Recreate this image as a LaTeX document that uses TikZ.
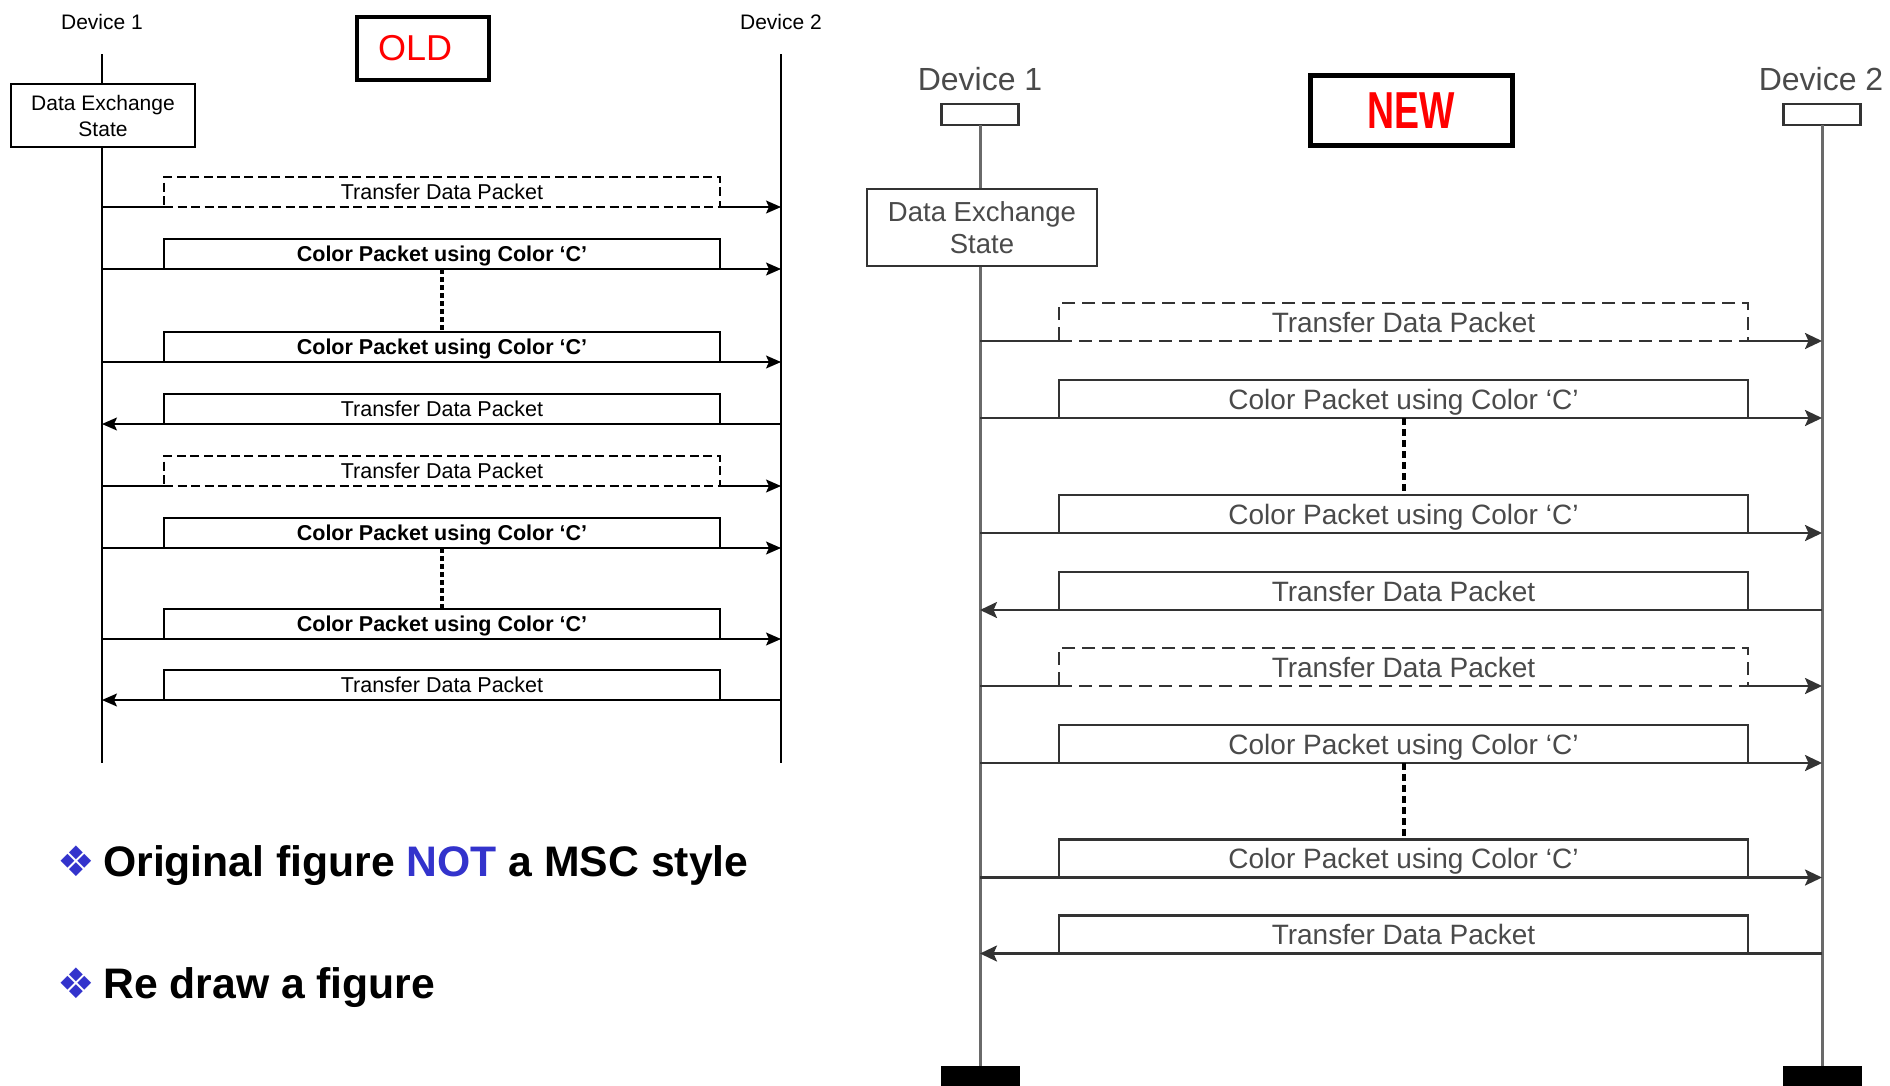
\documentclass[tikz,border=0pt]{standalone}
\usepackage{fontspec}
\setmainfont{Liberation Sans}
\newfontfamily\symfont{DejaVu Sans}
\usetikzlibrary{arrows.meta}
\definecolor{notblue}{HTML}{3333CC}
\definecolor{ngray}{HTML}{6A6A6A}
\definecolor{ntext}{HTML}{4A4A4A}
\definecolor{nline}{HTML}{333333}
\begin{document}
\begin{tikzpicture}[x=1pt,y=-1pt,
  olabel/.style={font=\fontsize{21}{25}\selectfont, anchor=base},
  obox/.style={draw, line width=1.5pt, minimum width=556pt, minimum height=30pt, inner sep=0pt, outer sep=0pt,
    font=\fontsize{21.5}{26}\selectfont, text height=15.5pt, text depth=0pt},
  oboxb/.style={obox, font=\bfseries\fontsize{21.5}{26}\selectfont},
  odash/.style={obox, line width=2.5pt, dash pattern=on 9pt off 4.5pt},
  oline/.style={line width=1.5pt},
  oarrow/.style={line width=1.5pt, -{Stealth[length=15pt,width=13pt,inset=3pt]}},
  odots/.style={line width=4pt, dash pattern=on 5pt off 3pt},
  nlabel/.style={font=\fontsize{32}{38}\selectfont, text=ntext, anchor=base},
  nbox/.style={draw=nline, line width=2.5pt, minimum width=689pt, minimum height=38pt, inner sep=0pt, outer sep=0pt,
    text=ntext, font=\fontsize{28}{34}\selectfont, text height=20pt, text depth=0pt},
  ndash/.style={nbox, dash pattern=on 13pt off 7pt},
  nline/.style={draw=nline, line width=2.5pt},
  narrow/.style={draw=nline, line width=2.5pt, -{Stealth[length=17pt,width=16pt,inset=3.5pt]}},
  nlife/.style={draw=ngray, line width=3pt},
  ndots/.style={line width=4pt, dash pattern=on 7pt off 4pt},
  nhead/.style={draw=nline, line width=2.5pt, minimum width=77pt, minimum height=21pt, inner sep=0pt, outer sep=0pt},
  nend/.style={fill=black, minimum width=79pt, minimum height=30pt, inner sep=0pt, outer sep=0pt, anchor=north},
  bullet/.style={anchor=base west, font=\bfseries\fontsize{42.7}{50}\selectfont}
]
\useasboundingbox (0,0) rectangle (1890,1085);

% ================= OLD =================
\node[olabel] (od1) at (102,29) {Device 1};
\node[olabel] (od2) at (781,29) {Device 2};
\coordinate (o1top) at (102,54);
\coordinate (o1bot) at (102,763);
\coordinate (o2top) at (781,54);
\coordinate (o2bot) at (781,763);
\draw[oline] (o1top) -- (o1bot);
\draw[oline] (o2top) -- (o2bot);
\node[draw, line width=1.5pt, fill=white, minimum width=184pt, minimum height=63pt, inner sep=0pt, align=center,
  font=\fontsize{21}{26}\selectfont] (odes) at (103,115.5) {Data Exchange\\State};
\node[draw, line width=4pt, minimum height=63pt, text width=90pt, inner xsep=21pt, inner ysep=0pt, align=left,
  text=red, font=\fontsize{36}{40}\selectfont] (oldbox) at (423,48) {OLD};

\node[odash] (ob1) at (442,192) {Transfer Data Packet};
\node[oboxb] (ob2) at (442,254) {Color Packet using Color ‘C’};
\node[oboxb] (ob3) at (442,347) {Color Packet using Color ‘C’};
\node[obox]  (ob4) at (442,409) {Transfer Data Packet};
\node[odash] (ob5) at (442,471) {Transfer Data Packet};
\node[oboxb] (ob6) at (442,533) {Color Packet using Color ‘C’};
\node[oboxb] (ob7) at (442,624) {Color Packet using Color ‘C’};
\node[obox]  (ob8) at (442,685) {Transfer Data Packet};

\draw[oline] (ob1.south -| o1top) -- (ob1.south west);
\draw[oarrow] (ob1.south east) -- (ob1.south -| o2top);
\draw[oarrow] (ob2.south -| o1top) -- (ob2.south -| o2top);
\draw[oarrow] (ob3.south -| o1top) -- (ob3.south -| o2top);
\draw[oarrow] (ob4.south -| o2top) -- (ob4.south -| o1top);
\draw[oline] (ob5.south -| o1top) -- (ob5.south west);
\draw[oarrow] (ob5.south east) -- (ob5.south -| o2top);
\draw[oarrow] (ob6.south -| o1top) -- (ob6.south -| o2top);
\draw[oarrow] (ob7.south -| o1top) -- (ob7.south -| o2top);
\draw[oarrow] (ob8.south -| o2top) -- (ob8.south -| o1top);
\draw[odots] (ob2.south) -- (ob3.north);
\draw[odots] (ob6.south) -- (ob7.north);

% ================= NEW =================
\node[nlabel] (nd1) at (980,90) {Device 1};
\node[nlabel] (nd2) at (1821,90) {Device 2};
\node[nhead] (nh1) at (980,114.5) {};
\node[nhead] (nh2) at (1822,114.5) {};
\node[nend] (ne1) at (980,1066) {};
\node[nend] (ne2) at (1822,1066) {};
\draw[nlife] (nh1.south) -- (ne1.north);
\draw[nlife] (nh2.south) -- (ne2.north);
\node[draw=nline, line width=2.5pt, fill=white, minimum width=230pt, minimum height=77pt, inner sep=0pt, align=center,
  text=ntext, font=\fontsize{27.5}{32}\selectfont] (ndes) at (982,227.5) {Data Exchange\\State};
\node[draw, line width=5pt, minimum width=202pt, minimum height=70pt, inner sep=0pt, text=red,
  font=\bfseries\fontsize{52}{60}\selectfont] (newbox) at (1411.5,110.5) {\scalebox{0.72}[1]{NEW}};

\node[ndash] (nb1) at (1403.5,322) {Transfer Data Packet};
\node[nbox]  (nb2) at (1403.5,399) {Color Packet using Color ‘C’};
\node[nbox]  (nb3) at (1403.5,514) {Color Packet using Color ‘C’};
\node[nbox]  (nb4) at (1403.5,591) {Transfer Data Packet};
\node[ndash] (nb5) at (1403.5,667) {Transfer Data Packet};
\node[nbox]  (nb6) at (1403.5,744) {Color Packet using Color ‘C’};
\node[nbox]  (nb7) at (1403.5,858.5) {Color Packet using Color ‘C’};
\node[nbox]  (nb8) at (1403.5,934.5) {Transfer Data Packet};

\draw[nline] (nb1.south -| nh1.south) -- (nb1.south west);
\draw[narrow] (nb1.south east) -- (nb1.south -| nh2.south);
\draw[narrow] (nb2.south -| nh1.south) -- (nb2.south -| nh2.south);
\draw[narrow] (nb3.south -| nh1.south) -- (nb3.south -| nh2.south);
\draw[narrow] (nb4.south -| nh2.south) -- (nb4.south -| nh1.south);
\draw[nline] (nb5.south -| nh1.south) -- (nb5.south west);
\draw[narrow] (nb5.south east) -- (nb5.south -| nh2.south);
\draw[narrow] (nb6.south -| nh1.south) -- (nb6.south -| nh2.south);
\draw[narrow] (nb7.south -| nh1.south) -- (nb7.south -| nh2.south);
\draw[narrow] (nb8.south -| nh2.south) -- (nb8.south -| nh1.south);
\draw[ndots] (nb2.south) -- (nb3.north);
\draw[ndots] (nb6.south) -- (nb7.north);

% ================= bullets =================
\node[bullet] (bul1) at (54,876) {{\symfont\color{notblue}\fontsize{42}{46}\selectfont ❖}\hspace{8pt}Original figure \textcolor{notblue}{NOT} a MSC style};
\node[bullet] (bul2) at (54,998) {{\symfont\color{notblue}\fontsize{42}{46}\selectfont ❖}\hspace{8pt}Re draw a figure};
\end{tikzpicture}
\end{document}
